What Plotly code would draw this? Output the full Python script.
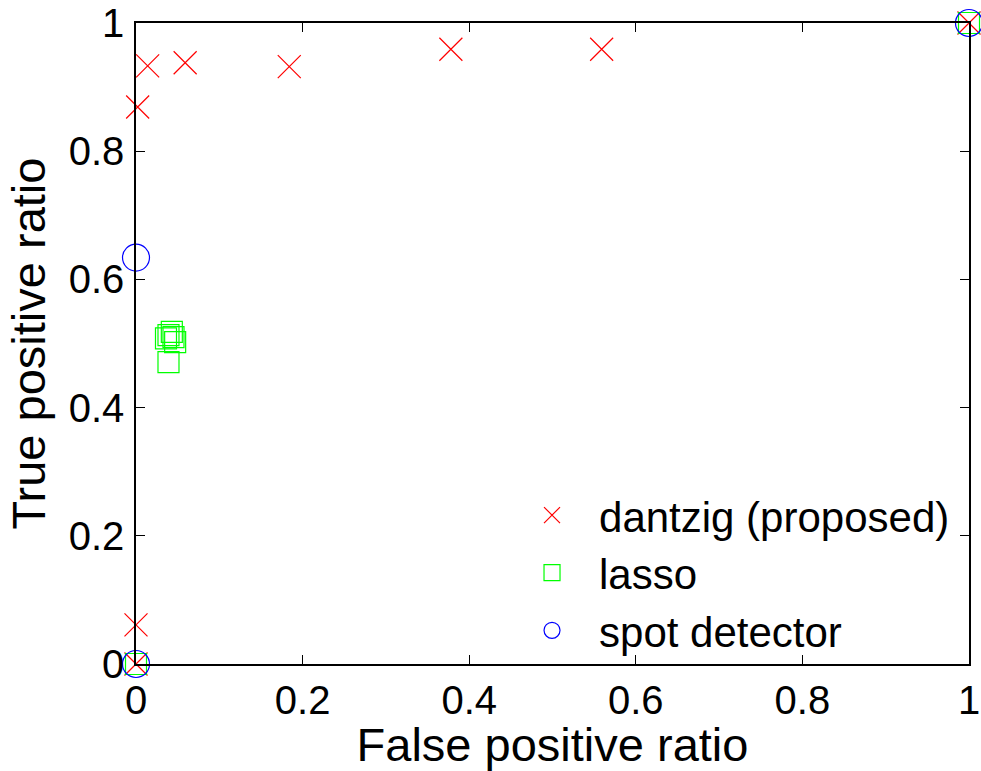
import plotly.graph_objects as go

# ROC-style operating points for three detectors
dantzig_fpr = [0.0, 0.0, 0.002, 0.014, 0.059, 0.184, 0.378, 0.559, 1.0]
dantzig_tpr = [0.0, 0.061, 0.869, 0.933, 0.938, 0.932, 0.959, 0.959, 1.0]

lasso_fpr = [0.0, 0.039, 0.043, 0.039, 0.036, 0.047, 0.045, 1.0]
lasso_tpr = [0.0, 0.471, 0.518, 0.513, 0.508, 0.502, 0.510, 1.0]

spot_fpr = [0.0, 0.0, 1.0]
spot_tpr = [0.0, 0.634, 1.0]

tick_vals = [0, 0.2, 0.4, 0.6, 0.8, 1]
tick_text = ["0", "0.2", "0.4", "0.6", "0.8", "1"]

FONT = "Liberation Sans, Arial, Helvetica, sans-serif"

fig = go.Figure()
fig.add_trace(go.Scatter(
    x=dantzig_fpr, y=dantzig_tpr, mode="markers", name="dantzig (proposed)",
    legendgroup="a", cliponaxis=False,
    marker=dict(symbol="x-thin-open", size=23, color="#ff0000",
                line=dict(color="#ff0000", width=1.2)),
))
fig.add_trace(go.Scatter(
    x=lasso_fpr, y=lasso_tpr, mode="markers", name="lasso",
    legendgroup="b", cliponaxis=False,
    marker=dict(symbol="square-open", size=21, color="#00ff00",
                line=dict(color="#00ff00", width=1.2)),
))
fig.add_trace(go.Scatter(
    x=spot_fpr, y=spot_tpr, mode="markers", name="spot detector",
    legendgroup="c", cliponaxis=False,
    marker=dict(symbol="circle-open", size=27, color="#0000ff",
                line=dict(color="#0000ff", width=1.2)),
))

axis_common = dict(
    range=[0, 1], tickvals=tick_vals, ticktext=tick_text,
    ticks="inside", ticklen=9, tickwidth=1.2, tickcolor="black",
    showline=True, linecolor="black", linewidth=1.5, mirror="ticks",
    showgrid=False, zeroline=False, automargin=False,
    tickfont=dict(family=FONT, size=40, color="black"),
)

fig.update_layout(
    width=981, height=771,
    margin=dict(l=136, r=12, t=23, b=107, autoexpand=False),
    paper_bgcolor="white", plot_bgcolor="white",
    font=dict(family=FONT, color="black"),
    xaxis=dict(**axis_common, ticklabelstandoff=0,
               title=dict(text="False positive ratio",
                          font=dict(family=FONT, size=47), standoff=2)),
    yaxis=dict(**axis_common, ticklabelstandoff=2,
               title=dict(text="True positive ratio",
                          font=dict(family=FONT, size=47), standoff=8)),
    legend=dict(x=0.443, y=0.285, xanchor="left", yanchor="top",
                bgcolor="rgba(0,0,0,0)", borderwidth=0,
                font=dict(family=FONT, size=42, color="black"),
                itemwidth=84, tracegroupgap=0),
    showlegend=True,
)

fig.write_html("out.html")
